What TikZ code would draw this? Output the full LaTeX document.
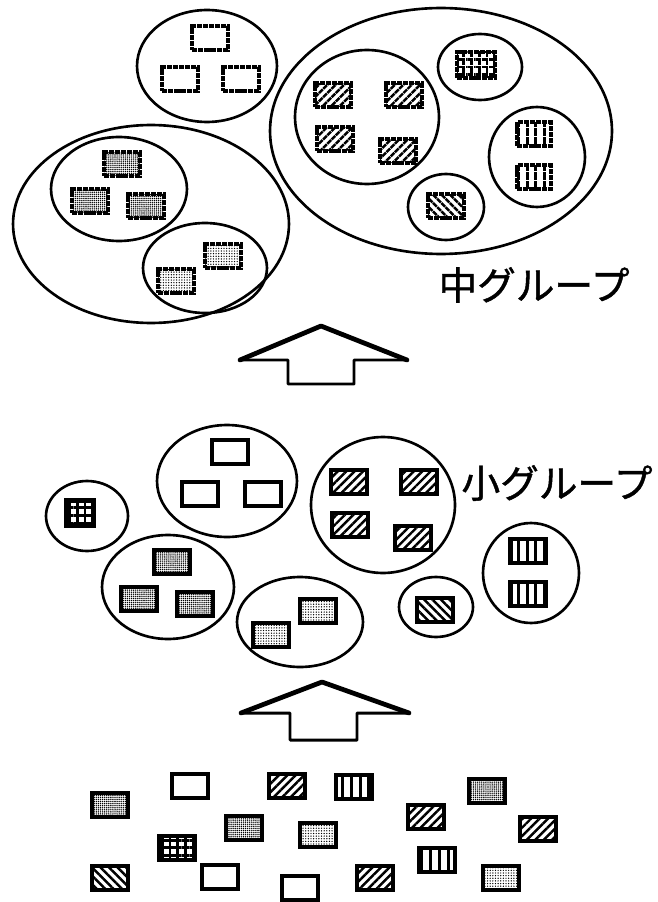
\documentclass[tikz,border=0pt]{standalone}
\usepackage{fontspec}
\usepackage{tikz}
\usetikzlibrary{shapes.geometric,patterns.meta}
\newfontfamily\jpfont[AutoFakeBold=1.2]{Noto Sans CJK JP}

\begin{document}
\begin{tikzpicture}[x=0.02cm,y=-0.02cm,
  grp/.style={ellipse,draw,line width=1.5pt,inner sep=0pt},
  box/.style={rectangle,draw,line width=2.6pt,inner sep=0pt,minimum width=0.72cm,minimum height=0.48cm,fill=white},
  rough/.style={box,line width=2.3pt,dash pattern=on 3pt off 0.5pt},
  fgray/.style={pattern={Dots[distance=1.1pt,radius=0.42pt]}},
  fdot/.style={pattern={Dots[distance=1.5pt,radius=0.4pt]}},
  fhatch/.style={pattern={Lines[angle=45,distance=3.4pt,line width=1.4pt]}},
  fback/.style={pattern={Lines[angle=-45,distance=3.4pt,line width=1.4pt]}},
  fvert/.style={pattern={Lines[angle=90,distance=5pt,line width=1.7pt]}},
  fgrid/.style={pattern={Hatch[distance=4.4pt,line width=1.6pt]}},
  label/.style={font=\jpfont\bfseries\fontsize{22}{26}\selectfont,inner sep=0pt}]
\useasboundingbox (0,0) rectangle (658,902);

% upper level: large groups
\node (TG1)[grp,minimum width=2.8cm,minimum height=2.24cm] at (207,66) {};
\node (TL)[grp,minimum width=5.52cm,minimum height=3.96cm] at (151,224) {};
\node (TG2)[grp,minimum width=2.72cm,minimum height=2.08cm] at (119,189) {};
\node (TG3)[grp,minimum width=2.48cm,minimum height=1.8cm] at (205,268) {};
\node (TR)[grp,minimum width=6.84cm,minimum height=4.92cm] at (441,131) {};
\node (TG4)[grp,minimum width=2.88cm,minimum height=2.68cm] at (367,117) {};
\node (TG5)[grp,minimum width=1.68cm,minimum height=1.32cm] at (480,67) {};
\node (TG6)[grp,minimum width=1.92cm,minimum height=2.0cm] at (537,157) {};
\node (TG7)[grp,minimum width=1.52cm,minimum height=1.32cm] at (446,207) {};

\node (T1)[rough] at (210,38) {};
\node (T2)[rough] at (180,79) {};
\node (T3)[rough] at (241,79) {};
\node (T4)[rough,fgray] at (122,164) {};
\node (T5)[rough,fgray] at (90,201) {};
\node (T6)[rough,fgray] at (146,206) {};
\node (T7)[rough,fdot] at (223,256) {};
\node (T8)[rough,fdot] at (176,281) {};
\node (T9)[rough,fhatch] at (333,95) {};
\node (T10)[rough,fhatch] at (404,95) {};
\node (T11)[rough,fhatch] at (335,139) {};
\node (T12)[rough,fhatch] at (398,151) {};
\node (T13)[rough,fgrid,minimum width=0.76cm,minimum height=0.52cm] at (476,65) {};
\node (T14)[rough,fvert,minimum width=0.68cm] at (534,134) {};
\node (T15)[rough,fvert,minimum width=0.68cm] at (534,177) {};
\node (T16)[rough,fback] at (446,206) {};

\node (L1)[label] at (534,285) {中グループ};

\draw[line width=1.7pt,line join=round] (288,384) -- (288,360) -- (240,360) -- (321,326) -- (407,360) -- (354,360) -- (354,384) -- cycle;
\draw[line width=2.7pt,line join=round,line cap=round] (240,360) -- (321,326) -- (407,360);

% middle level: small groups
\node (MG1)[grp,minimum width=1.64cm,minimum height=1.4cm] at (87,516) {};
\node (MG2)[grp,minimum width=2.8cm,minimum height=2.24cm] at (227,481) {};
\node (MG3)[grp,minimum width=2.64cm,minimum height=2.08cm] at (168,587) {};
\node (MG4)[grp,minimum width=2.52cm,minimum height=1.8cm] at (300,622) {};
\node (MG5)[grp,minimum width=2.88cm,minimum height=2.72cm] at (383,505) {};
\node (MG6)[grp,minimum width=1.92cm,minimum height=2.0cm] at (531,573) {};
\node (MG7)[grp,minimum width=1.48cm,minimum height=1.2cm] at (436,607) {};

\node (M1)[box,fgrid,minimum width=0.56cm,minimum height=0.5cm] at (80,513) {};
\node (M2)[box] at (230,452) {};
\node (M3)[box] at (200,494) {};
\node (M4)[box] at (263,494) {};
\node (M5)[box,fgray] at (172,562) {};
\node (M6)[box,fgray] at (139,599) {};
\node (M7)[box,fgray] at (195,604) {};
\node (M8)[box,fdot] at (318,611) {};
\node (M9)[box,fdot] at (271,635) {};
\node (M10)[box,fhatch] at (349,482) {};
\node (M11)[box,fhatch] at (419,482) {};
\node (M12)[box,fhatch] at (350,525) {};
\node (M13)[box,fhatch] at (413,538) {};
\node (M14)[box,fvert,minimum width=0.7cm] at (528,551) {};
\node (M15)[box,fvert,minimum width=0.7cm] at (528,594) {};
\node (M16)[box,fback] at (435,610) {};

\node (L2)[label] at (557,483) {小グループ};

\draw[line width=1.7pt,line join=round] (290,740) -- (290,713) -- (241,713) -- (322,682) -- (409,713) -- (357,713) -- (357,740) -- cycle;
\draw[line width=2.7pt,line join=round,line cap=round] (241,713) -- (322,682) -- (409,713);

% lower level: single items
\node (B1)[box,fgray] at (110,805) {};
\node (B2)[box] at (190,786) {};
\node (B3)[box,fhatch] at (287,786) {};
\node (B4)[box,fvert] at (354,787) {};
\node (B5)[box,fgray] at (244,828) {};
\node (B6)[box,fdot] at (318,835) {};
\node (B7)[box,fgrid] at (177,848) {};
\node (B8)[box,fback] at (110,878) {};
\node (B9)[box] at (220,877) {};
\node (B10)[box] at (300,888) {};
\node (B11)[box,fgray] at (487,791) {};
\node (B12)[box,fhatch] at (426,817) {};
\node (B13)[box,fhatch] at (538,829) {};
\node (B14)[box,fvert] at (437,860) {};
\node (B15)[box,fhatch] at (375,878) {};
\node (B16)[box,fdot] at (501,878) {};
\end{tikzpicture}
\end{document}
